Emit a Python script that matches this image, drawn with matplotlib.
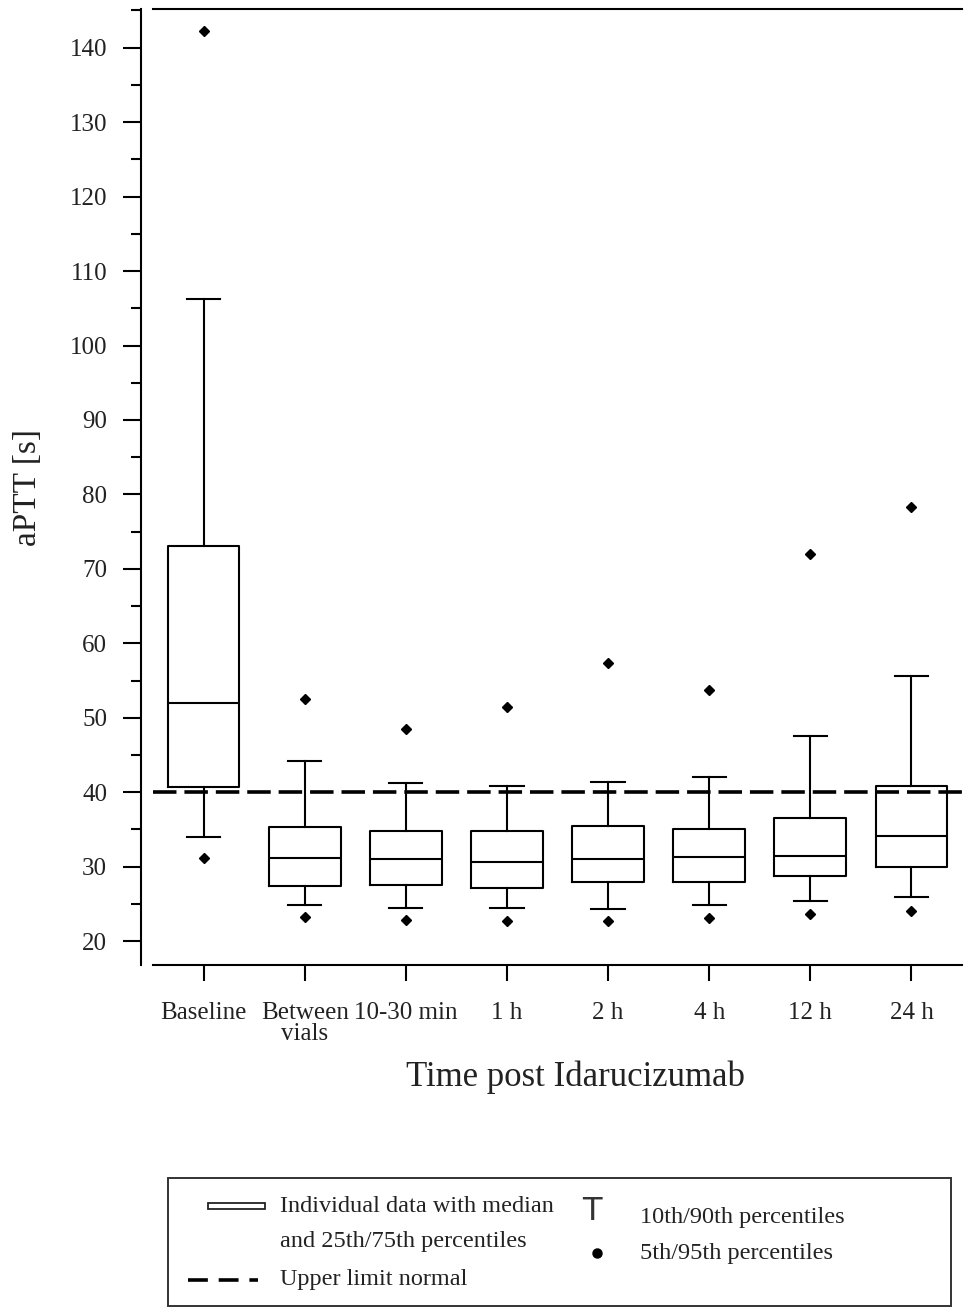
import matplotlib
matplotlib.use('Agg')
import matplotlib.pyplot as plt
from matplotlib.patches import Rectangle
from matplotlib.ticker import MultipleLocator

plt.rcParams['font.family'] = ['Liberation Serif', 'DejaVu Serif']

# aPTT percentiles per time point
categories = ['Baseline', 'Between\nvials', '10-30 min', '1 h', '2 h', '4 h', '12 h', '24 h']
p5 = [31.2, 23.2, 22.8, 22.7, 22.7, 23.1, 23.7, 24.1]
p10 = [34.0, 24.9, 24.4, 24.4, 24.3, 24.9, 25.4, 26.0]
p25 = [40.7, 27.4, 27.6, 27.1, 27.9, 27.9, 28.7, 29.9]
p50 = [52.0, 31.2, 31.0, 30.7, 31.0, 31.3, 31.5, 34.1]
p75 = [73.1, 35.4, 34.8, 34.8, 35.5, 35.0, 36.5, 40.9]
p90 = [106.3, 44.2, 41.2, 40.8, 41.4, 42.0, 47.6, 55.6]
p95 = [142.2, 52.5, 48.5, 51.5, 57.4, 53.8, 72.0, 78.3]
upper_limit_normal = 40

W, H = 972, 1309
fig = plt.figure(figsize=(W / 100, H / 100), dpi=100)
ax = fig.add_axes([153 / W, 1 - 965 / H, 809 / W, 956 / H])

stats = []
for i in range(len(categories)):
    stats.append(dict(med=p50[i], q1=p25[i], q3=p75[i],
                      whislo=p10[i], whishi=p90[i], fliers=[p5[i], p95[i]]))

lw = 1.5
ax.bxp(stats, positions=range(1, len(categories) + 1), widths=0.71, capwidths=0.33,
       boxprops=dict(color='black', linewidth=lw),
       whiskerprops=dict(color='black', linewidth=lw),
       capprops=dict(color='black', linewidth=lw),
       medianprops=dict(color='black', linewidth=lw),
       flierprops=dict(marker='D', markerfacecolor='black', markeredgecolor='black',
                       markersize=5.3),
       manage_ticks=False)

ax.axhline(upper_limit_normal, color='black', lw=2.6, dashes=(6.5, 2.2))

ax.set_xlim(0.5, 8.5)
ax.set_ylim(16.8, 145.2)
ax.set_xticks(range(1, len(categories) + 1))
ax.set_xticklabels(categories, linespacing=0.95)
ax.yaxis.set_minor_locator(MultipleLocator(5))
ax.set_yticks(range(20, 141, 10))

ax.tick_params(axis='y', which='major', length=13, width=1.5, pad=11.5,
               labelsize=18, labelcolor='#222222')
ax.tick_params(axis='y', which='minor', length=7.2, width=1.5)
ax.tick_params(axis='x', length=11.5, width=1.5, pad=15, labelsize=18,
               labelcolor='#222222')

ax.spines['right'].set_visible(False)
ax.spines['left'].set_position(('outward', 8.6))
for s in ['left', 'top', 'bottom']:
    ax.spines[s].set_linewidth(1.5)

fig.text(28 / W, 1 - 487 / H, 'aPTT [s]', rotation=90, fontsize=24,
         ha='center', va='center', color='#222222')
fig.text(576 / W, 1 - 1077 / H, 'Time post Idarucizumab', fontsize=25,
         ha='center', va='center', color='#222222')

# legend panel, drawn in pixel coordinates
lax = fig.add_axes([0, 0, 1, 1], zorder=-1)
lax.set_xlim(0, W)
lax.set_ylim(H, 0)
lax.axis('off')
lax.add_patch(Rectangle((168, 1178), 783, 128, fill=False, ec='#333333', lw=1.4))
lax.add_patch(Rectangle((208, 1203), 57, 6, fc='white', ec='#222222', lw=1.3))
lax.plot([188, 258], [1280, 1280], color='black', lw=2.6, dashes=(5.5, 3.0))
lax.plot([597], [1253], marker='o', color='black', markersize=6.5)
fs = 17.5
lax.text(280, 1207, 'Individual data with median', fontsize=fs, va='center', color='#222222')
lax.text(280, 1242, 'and 25th/75th percentiles', fontsize=fs, va='center', color='#222222')
lax.text(280, 1280, 'Upper limit normal', fontsize=fs, va='center', color='#222222')
lax.text(592, 1212, 'T', fontsize=23, family='DejaVu Sans', ha='center', va='center',
         color='#333333')
lax.text(640, 1217, '10th/90th percentiles', fontsize=fs, va='center', color='#222222')
lax.text(640, 1253, '5th/95th percentiles', fontsize=fs, va='center', color='#222222')

fig.savefig('out.png', dpi=100)
